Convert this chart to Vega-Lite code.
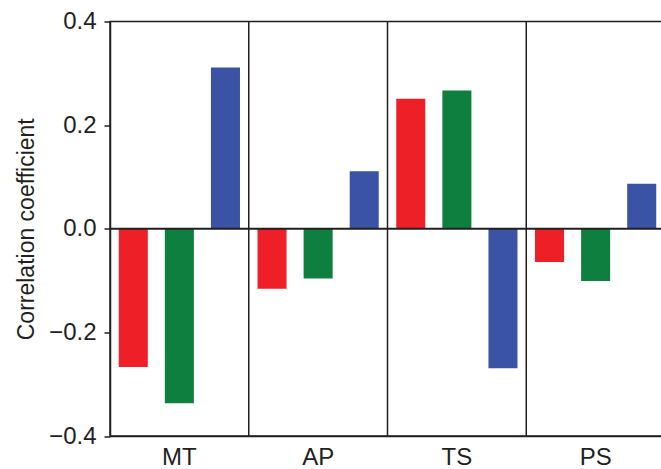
{
  "$schema": "https://vega.github.io/schema/vega-lite/v6.json",
  "width": 555,
  "height": 414.5,
  "autosize": {"type": "none"},
  "padding": {"left": 110, "top": 21.5, "right": 0, "bottom": 33},
  "background": "white",
  "config": {
    "view": {"stroke": "#231F20", "strokeWidth": 1.5},
    "font": "Liberation Sans",
    "axis": {"labelColor": "#231F20", "titleColor": "#231F20", "domainColor": "#231F20", "tickColor": "#231F20", "domainWidth": 1.5, "tickWidth": 1.5}
  },
  "datasets": {
    "bars": [
      {"group": "MT", "series": "A", "r": -0.267},
      {"group": "MT", "series": "B", "r": -0.337},
      {"group": "MT", "series": "C", "r": 0.311},
      {"group": "AP", "series": "A", "r": -0.116},
      {"group": "AP", "series": "B", "r": -0.096},
      {"group": "AP", "series": "C", "r": 0.111},
      {"group": "TS", "series": "A", "r": 0.251},
      {"group": "TS", "series": "B", "r": 0.267},
      {"group": "TS", "series": "C", "r": -0.269},
      {"group": "PS", "series": "A", "r": -0.064},
      {"group": "PS", "series": "B", "r": -0.101},
      {"group": "PS", "series": "C", "r": 0.087}
    ],
    "dividers": [{"group": "AP"}, {"group": "TS"}, {"group": "PS"}]
  },
  "layer": [
    {
      "data": {"name": "bars"},
      "mark": {"type": "bar"},
      "encoding": {
        "x": {
          "field": "group", "type": "nominal", "sort": ["MT", "AP", "TS", "PS"],
          "scale": {"paddingInner": 0, "paddingOuter": 0},
          "axis": {"title": null, "ticks": false, "labelAngle": 0, "labelFontSize": 24, "labelPadding": 9, "domain": true}
        },
        "xOffset": {
          "field": "series", "type": "nominal",
          "scale": {"paddingInner": 0.37, "paddingOuter": 0.19}
        },
        "y": {
          "field": "r", "type": "quantitative",
          "scale": {"domain": [-0.4, 0.4], "nice": false, "zero": false},
          "axis": {"title": "Correlation coefficient", "values": [-0.4, -0.2, 0, 0.2, 0.4], "format": ".1f", "grid": false, "tickSize": 6, "labelPadding": 8, "labelFontSize": 24, "titleFontSize": 23, "titleFontWeight": "normal", "titlePadding": 10}
        },
        "color": {
          "field": "series", "type": "nominal",
          "scale": {"domain": ["A", "B", "C"], "range": ["#EE1F26", "#0F7F40", "#3A53A4"]},
          "legend": null
        }
      }
    },
    {
      "data": {"name": "dividers"},
      "mark": {"type": "rule", "color": "#231F20", "strokeWidth": 1.5},
      "encoding": {
        "x": {"field": "group", "type": "nominal", "bandPosition": 0, "sort": ["MT", "AP", "TS", "PS"]}
      }
    },
    {
      "data": {"values": [{"z": 0}]},
      "mark": {"type": "rule", "color": "#231F20", "strokeWidth": 2},
      "encoding": {
        "y": {"field": "z", "type": "quantitative"}
      }
    }
  ]
}
